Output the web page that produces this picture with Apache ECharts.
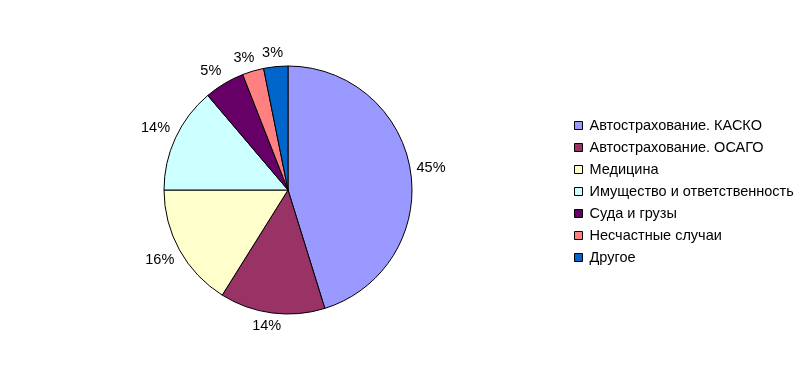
<!DOCTYPE html>
<html><head><meta charset="utf-8">
<script src="https://cdn.jsdelivr.net/npm/echarts@6/dist/echarts.min.js"></script>
<style>html,body{margin:0;padding:0;background:#fff}#c{width:808px;height:381px}</style>
</head><body><div id="c"></div>
<script>
const categories = ['Автострахование. КАСКО','Автострахование. ОСАГО','Медицина','Имущество и ответственность','Суда и грузы','Несчастные случаи','Другое'];
const values = [45.2, 13.7, 16.1, 13.8, 5.25, 2.8, 3.15];
const colors = ['#9999FF','#993366','#FFFFCC','#CCFFFF','#660066','#FF8080','#0066CC'];

const CX = 288, CY = 190, R = 124, LABEL_GAP = 6, K = 2.5;
const total = values.reduce((a,b)=>a+b,0);
const midAngles = [];
{ let acc = 0; values.forEach(v => { midAngles.push((acc + v/2) / total * 2 * Math.PI); acc += v; }); }
const clamp = v => Math.max(-1, Math.min(1, v));

const chart = echarts.init(document.getElementById('c'), null, {renderer:'canvas'});
const font = 'Liberation Sans, Arial, sans-serif';
chart.setOption({
  animation: false,
  color: colors,
  legend: {
    orient: 'vertical', left: 569, top: 113,
    icon: 'rect', itemWidth: 8, itemHeight: 8, itemGap: 7,
    itemStyle: {borderColor: '#000', borderWidth: 1},
    textStyle: {fontFamily: font, fontSize: 14.5, color: '#000', padding:[0,0,0,2]},
    data: categories
  },
  series: [{
    type: 'pie',
    center: [CX, CY], radius: R,
    startAngle: 90, clockwise: true,
    avoidLabelOverlap: false,
    itemStyle: {borderColor: '#000', borderWidth: 1},
    label: {
      show: true, position: 'outside', color: '#000',
      fontFamily: font, fontSize: 14.5,
      formatter: p => Math.round(p.value) + '%'
    },
    labelLine: {show: false, length: 8, length2: 0},
    labelLayout: function (p) {
      const a = midAngles[p.dataIndex];
      const s = Math.sin(a), c = -Math.cos(a);
      const w = p.labelRect.width, h = p.labelRect.height;
      return {
        x: CX + (R + LABEL_GAP) * s + w / 2 * clamp(s * K),
        y: CY + (R + LABEL_GAP) * c + h / 2 * clamp(c * K),
        align: 'center', verticalAlign: 'middle'
      };
    },
    emphasis: {disabled: true},
    data: categories.map((n,i)=>({name:n, value: values[i]}))
  }]
});
</script></body></html>
